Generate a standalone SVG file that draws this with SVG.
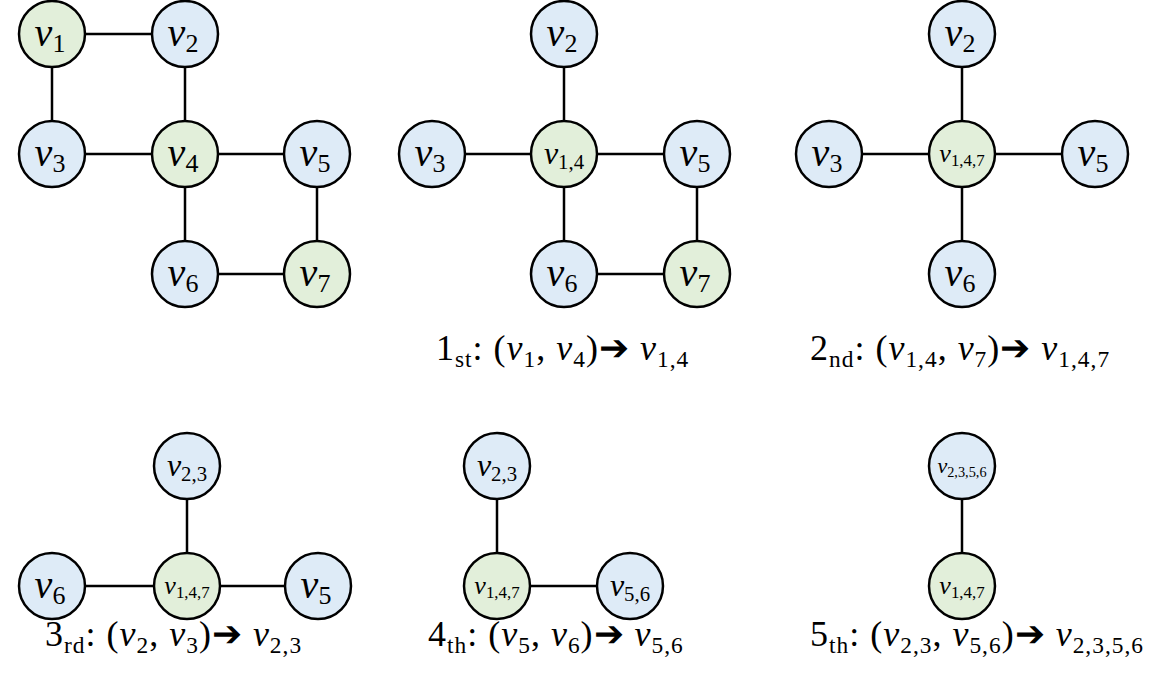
<svg xmlns="http://www.w3.org/2000/svg" width="1168" height="677" viewBox="0 0 1168 677">
<style>
circle{stroke:#000;stroke-width:2.5}
.g{fill:#e2efda}.b{fill:#deebf7}
line{stroke:#000;stroke-width:2.5}
text{font-family:"Liberation Serif","DejaVu Serif",serif;fill:#000}
.v{font-style:italic}
.L{font-size:40px;text-anchor:middle}
.M{font-size:32px;text-anchor:middle}
.S{font-size:26px;text-anchor:middle}
.s{font-size:0.65em;font-style:normal}
.cap{font-size:36px;letter-spacing:1px}
</style>
<rect width="1168" height="677" fill="#fff"/>
<g id="connectors">
<line x1="52" y1="34" x2="185" y2="34"/><line x1="52" y1="34" x2="52" y2="154"/><line x1="185" y1="34" x2="185" y2="154"/><line x1="52" y1="154" x2="185" y2="154"/><line x1="185" y1="154" x2="317" y2="154"/><line x1="185" y1="154" x2="185" y2="274"/><line x1="317" y1="154" x2="317" y2="274"/><line x1="185" y1="274" x2="317" y2="274"/>
<line x1="564" y1="34" x2="564" y2="274"/><line x1="432" y1="154" x2="697" y2="154"/><line x1="697" y1="154" x2="697" y2="274"/><line x1="564" y1="274" x2="697" y2="274"/>
<line x1="962" y1="34" x2="962" y2="274"/><line x1="829" y1="154" x2="1095" y2="154"/>
<line x1="187" y1="466" x2="187" y2="586"/><line x1="52" y1="586" x2="318" y2="586"/>
<line x1="497" y1="466" x2="497" y2="586"/><line x1="497" y1="586" x2="630" y2="586"/>
<line x1="962" y1="466" x2="962" y2="586"/>
</g>
<g id="n1"><circle class="g" cx="52" cy="34" r="33"/><text class="L" x="50" y="46"><tspan class="v">v</tspan><tspan class="s" dy="6">1</tspan></text></g>
<g id="n2"><circle class="b" cx="185" cy="34" r="33"/><text class="L" x="183" y="46"><tspan class="v">v</tspan><tspan class="s" dy="6">2</tspan></text></g>
<g id="n3"><circle class="b" cx="52" cy="154" r="33"/><text class="L" x="50" y="166"><tspan class="v">v</tspan><tspan class="s" dy="6">3</tspan></text></g>
<g id="n4"><circle class="g" cx="185" cy="154" r="33"/><text class="L" x="183" y="166"><tspan class="v">v</tspan><tspan class="s" dy="6">4</tspan></text></g>
<g id="n5"><circle class="b" cx="317" cy="154" r="33"/><text class="L" x="315" y="166"><tspan class="v">v</tspan><tspan class="s" dy="6">5</tspan></text></g>
<g id="n6"><circle class="b" cx="185" cy="274" r="33"/><text class="L" x="183" y="286"><tspan class="v">v</tspan><tspan class="s" dy="6">6</tspan></text></g>
<g id="n7"><circle class="g" cx="317" cy="274" r="33"/><text class="L" x="315" y="286"><tspan class="v">v</tspan><tspan class="s" dy="6">7</tspan></text></g>

<g id="a2"><circle class="b" cx="564" cy="34" r="33"/><text class="L" x="562" y="46"><tspan class="v">v</tspan><tspan class="s" dy="6">2</tspan></text></g>
<g id="a3"><circle class="b" cx="432" cy="154" r="33"/><text class="L" x="430" y="166"><tspan class="v">v</tspan><tspan class="s" dy="6">3</tspan></text></g>
<g id="a14"><circle class="g" cx="564" cy="154" r="33"/><text class="M" x="564" y="164"><tspan class="v">v</tspan><tspan class="s" dy="5">1,4</tspan></text></g>
<g id="a5"><circle class="b" cx="697" cy="154" r="33"/><text class="L" x="695" y="166"><tspan class="v">v</tspan><tspan class="s" dy="6">5</tspan></text></g>
<g id="a6"><circle class="b" cx="564" cy="274" r="33"/><text class="L" x="562" y="286"><tspan class="v">v</tspan><tspan class="s" dy="6">6</tspan></text></g>
<g id="a7"><circle class="g" cx="697" cy="274" r="33"/><text class="L" x="695" y="286"><tspan class="v">v</tspan><tspan class="s" dy="6">7</tspan></text></g>

<g id="b2"><circle class="b" cx="962" cy="34" r="33"/><text class="L" x="960" y="46"><tspan class="v">v</tspan><tspan class="s" dy="6">2</tspan></text></g>
<g id="b3"><circle class="b" cx="829" cy="154" r="33"/><text class="L" x="827" y="166"><tspan class="v">v</tspan><tspan class="s" dy="6">3</tspan></text></g>
<g id="b147"><circle class="g" cx="962" cy="154" r="33"/><text class="S" x="962" y="162"><tspan class="v">v</tspan><tspan class="s" dy="4">1,4,7</tspan></text></g>
<g id="b5"><circle class="b" cx="1095" cy="154" r="33"/><text class="L" x="1093" y="166"><tspan class="v">v</tspan><tspan class="s" dy="6">5</tspan></text></g>
<g id="b6"><circle class="b" cx="962" cy="274" r="33"/><text class="L" x="960" y="286"><tspan class="v">v</tspan><tspan class="s" dy="6">6</tspan></text></g>

<g id="c23"><circle class="b" cx="187" cy="466" r="33"/><text class="M" x="187" y="476"><tspan class="v">v</tspan><tspan class="s" dy="5">2,3</tspan></text></g>
<g id="c6"><circle class="b" cx="52" cy="586" r="33"/><text class="L" x="50" y="598"><tspan class="v">v</tspan><tspan class="s" dy="6">6</tspan></text></g>
<g id="c147"><circle class="g" cx="187" cy="586" r="33"/><text class="S" x="187" y="594"><tspan class="v">v</tspan><tspan class="s" dy="4">1,4,7</tspan></text></g>
<g id="c5"><circle class="b" cx="318" cy="586" r="33"/><text class="L" x="316" y="598"><tspan class="v">v</tspan><tspan class="s" dy="6">5</tspan></text></g>

<g id="d23"><circle class="b" cx="497" cy="466" r="33"/><text class="M" x="497" y="476"><tspan class="v">v</tspan><tspan class="s" dy="5">2,3</tspan></text></g>
<g id="d147"><circle class="g" cx="497" cy="586" r="33"/><text class="S" x="497" y="594"><tspan class="v">v</tspan><tspan class="s" dy="4">1,4,7</tspan></text></g>
<g id="d56"><circle class="b" cx="630" cy="586" r="33"/><text class="M" x="630" y="596"><tspan class="v">v</tspan><tspan class="s" dy="5">5,6</tspan></text></g>

<g id="e2356"><circle class="b" cx="962" cy="466" r="33"/><text class="S" x="962" y="473" style="font-size:22px"><tspan class="v">v</tspan><tspan class="s" dy="4">2,3,5,6</tspan></text></g>
<g id="e147"><circle class="g" cx="962" cy="586" r="33"/><text class="S" x="962" y="594"><tspan class="v">v</tspan><tspan class="s" dy="4">1,4,7</tspan></text></g>

<g id="captions">
<text class="cap" x="436" y="360">1<tspan class="s v" dy="7">st</tspan><tspan dy="-7">: (</tspan><tspan class="v">v</tspan><tspan class="s" dy="7">1</tspan><tspan dy="-7">, </tspan><tspan class="v">v</tspan><tspan class="s" dy="7">4</tspan><tspan dy="-7">)➔ </tspan><tspan class="v">v</tspan><tspan class="s" dy="7">1,4</tspan></text>
<text class="cap" x="810" y="360">2<tspan class="s v" dy="7">nd</tspan><tspan dy="-7">: (</tspan><tspan class="v">v</tspan><tspan class="s" dy="7">1,4</tspan><tspan dy="-7">, </tspan><tspan class="v">v</tspan><tspan class="s" dy="7">7</tspan><tspan dy="-7">)➔ </tspan><tspan class="v">v</tspan><tspan class="s" dy="7">1,4,7</tspan></text>
<text class="cap" x="45" y="646">3<tspan class="s v" dy="7">rd</tspan><tspan dy="-7">: (</tspan><tspan class="v">v</tspan><tspan class="s" dy="7">2</tspan><tspan dy="-7">, </tspan><tspan class="v">v</tspan><tspan class="s" dy="7">3</tspan><tspan dy="-7">)➔ </tspan><tspan class="v">v</tspan><tspan class="s" dy="7">2,3</tspan></text>
<text class="cap" x="428" y="646">4<tspan class="s v" dy="7">th</tspan><tspan dy="-7">: (</tspan><tspan class="v">v</tspan><tspan class="s" dy="7">5</tspan><tspan dy="-7">, </tspan><tspan class="v">v</tspan><tspan class="s" dy="7">6</tspan><tspan dy="-7">)➔ </tspan><tspan class="v">v</tspan><tspan class="s" dy="7">5,6</tspan></text>
<text class="cap" x="810" y="646">5<tspan class="s v" dy="7">th</tspan><tspan dy="-7">: (</tspan><tspan class="v">v</tspan><tspan class="s" dy="7">2,3</tspan><tspan dy="-7">, </tspan><tspan class="v">v</tspan><tspan class="s" dy="7">5,6</tspan><tspan dy="-7">)➔ </tspan><tspan class="v">v</tspan><tspan class="s" dy="7">2,3,5,6</tspan></text>
</g>
</svg>
